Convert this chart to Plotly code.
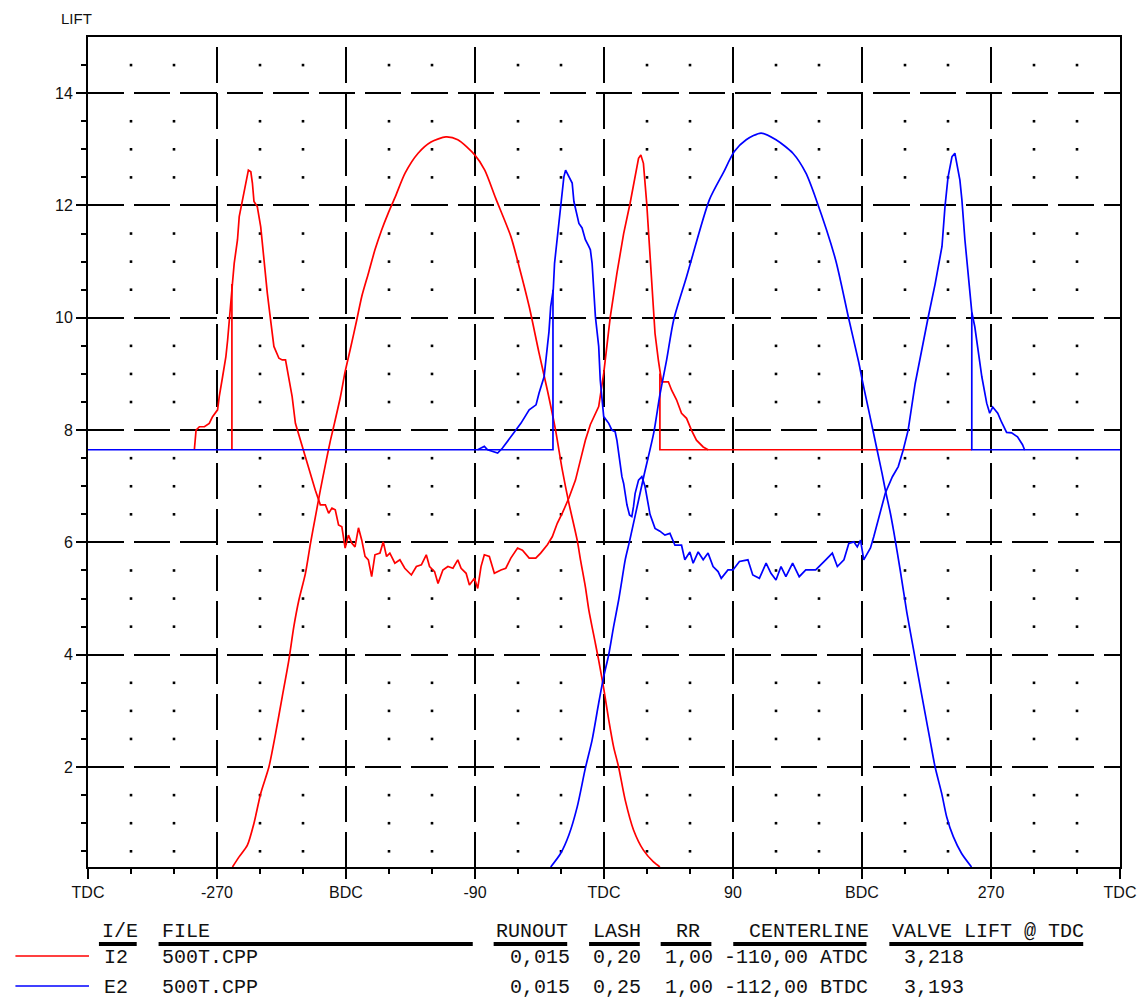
import plotly.graph_objects as go

# ---------------- data ----------------
x_tick_vals = [-360, -270, -180, -90, 0, 90, 180, 270, 360]
x_tick_text = ["TDC", "-270", "BDC", "-90", "TDC", "90", "BDC", "270", "TDC"]
x_minor_vals = list(range(-360, 361, 30))
y_tick_vals = [2, 4, 6, 8, 10, 12, 14]
y_minor_vals = [v / 2 for v in range(1, 30)]

# I2 valve lift (intake)
i2_lift_deg = [-259.2, -254.6, -248.8, -244.2, -239.5, -233.8, -229.1, -224.5, -219.9, -216.4,
               -212.9, -208.3, -204.8, -201.4, -197.9, -194.4, -191.0, -188.7, -184.0, -180.6,
               -177.1, -172.5, -169.0, -164.4, -159.8, -155.2, -150.6, -145.7, -138.7, -129.7,
               -120.7, -110.3, -102.0, -90.2, -83.2, -75.6, -65.0, -59.2, -52.2, -45.3,
               -39.5, -33.8, -29.1, -24.5, -18.7, -16.4, -13.0, -10.6, -6.0, -3.7,
               -0.2, 3.3, 6.7, 10.2, 14.8, 20.6, 27.5, 34.5, 39.0]
i2_lift_val = [0.22, 0.40, 0.61, 1.00, 1.53, 2.00, 2.60, 3.25, 3.90, 4.50,
               4.97, 5.45, 5.98, 6.45, 6.93, 7.38, 7.80, 8.05, 8.58, 9.04,
               9.43, 9.96, 10.38, 10.79, 11.21, 11.56, 11.86, 12.15, 12.58, 12.93,
               13.13, 13.22, 13.17, 12.90, 12.63, 12.13, 11.45, 10.91, 10.20, 9.37,
               8.71, 8.00, 7.29, 6.70, 6.04, 5.69, 5.21, 4.80, 4.20, 3.90,
               3.40, 2.84, 2.36, 2.00, 1.41, 0.88, 0.52, 0.31, 0.22]

# E2 valve lift (exhaust)
e2_lift_deg = [-37.2, -30.3, -24.5, -18.7, -13.0, -8.3, -3.7, -0.2, 3.3, 6.7,
               10.2, 12.5, 14.8, 18.0, 27.7, 34.7, 38.8, 43.7, 48.6, 57.6,
               73.5, 83.2, 90.9, 99.2, 109.6, 120.0, 131.8, 140.8, 147.7, 161.6,
               170.6, 177.8, 180.1, 183.6, 187.1, 190.5, 194.0, 196.3, 199.8, 202.1,
               206.7, 211.3, 215.9, 219.4, 224.0, 227.5, 231.0, 235.6, 239.1, 243.7,
               249.5, 256.4]
e2_lift_val = [0.22, 0.46, 0.79, 1.29, 1.98, 2.48, 3.14, 3.61, 4.00, 4.50,
               4.97, 5.33, 5.69, 6.04, 7.17, 7.95, 8.60, 9.25, 9.96, 10.73,
               12.10, 12.58, 12.96, 13.17, 13.29, 13.17, 12.93, 12.58, 12.13, 11.03,
               10.00, 9.20, 8.90, 8.48, 8.06, 7.65, 7.23, 6.93, 6.52, 6.20,
               5.50, 4.75, 4.10, 3.60, 2.96, 2.48, 2.00, 1.53, 1.11, 0.76,
               0.46, 0.22]

# I2 second (noisy) curve, segments separated by None
i2_dyn_deg = [-285.8, -284.6, -282.3, -278.8, -275.4, -273.1, -269.6, -268.4, -266.1, -263.8,
              -262.6, -261.4, -259.2, -258.0, -255.7, -254.5, -252.2, -249.9, -248.1, -246.4,
              -245.3, -244.2, -241.9, -239.5, -237.2, -234.9, -232.6, -230.3, -226.8, -224.5,
              -222.2, -219.9, -217.6, -215.3, -211.8, -209.5, -206.0, -204.8, -201.4, -197.9,
              -194.4, -192.1, -189.8, -187.5, -185.2, -182.9, -180.6, -178.3, -176.0, -173.7,
              -171.3, -169.0, -166.7, -164.4, -162.1, -159.8, -156.3, -154.0, -151.7, -149.4,
              -145.9, -142.4, -139.0, -134.4, -130.9, -127.4, -124.0, -121.7, -118.2, -115.8,
              -112.4, -108.9, -105.4, -102.0, -99.7, -96.2, -93.9, -90.4, -88.1, -85.8,
              -83.5, -80.0, -76.5, -71.9, -68.5, -65.0, -60.3, -56.9, -52.2, -47.6,
              -44.2, -39.5, -36.1, -32.6, -29.1, -24.5, -19.9, -16.4, -13.0, -9.5,
              -3.7, -0.2, 4.4, 9.0, 13.7, 18.2, 21.7, 24.1, 25.7, 27.5,
              29.8, 31.6, 33.3, 35.6, 37.9, 39.0, 40.2, 41.4, 44.9, 47.2,
              50.6, 54.1, 57.6, 61.0, 64.5, 69.2, 72.6, 256.6,
              None, -259.6, -259.6,
              None, 39.0, 39.0, 72.6]
i2_dyn_val = [7.65, 8.00, 8.06, 8.06, 8.12, 8.24, 8.36, 8.60, 8.95, 9.31,
              9.60, 10.02, 10.62, 10.97, 11.39, 11.80, 12.10, 12.40, 12.63, 12.60,
              12.40, 12.07, 11.98, 11.62, 10.97, 10.44, 9.96, 9.49, 9.28, 9.25,
              9.25, 8.89, 8.60, 8.12, 7.82, 7.60, 7.29, 7.23, 6.93, 6.67,
              6.67, 6.52, 6.61, 6.58, 6.31, 6.28, 5.90, 6.13, 5.99, 5.92,
              6.26, 6.04, 5.75, 5.69, 5.39, 5.78, 5.81, 6.01, 5.75, 5.81,
              5.63, 5.69, 5.54, 5.42, 5.57, 5.60, 5.78, 5.57, 5.48, 5.27,
              5.51, 5.57, 5.54, 5.69, 5.54, 5.45, 5.24, 5.36, 5.18, 5.57,
              5.78, 5.75, 5.45, 5.51, 5.54, 5.72, 5.90, 5.86, 5.72, 5.72,
              5.81, 5.96, 6.10, 6.34, 6.52, 6.79, 7.11, 7.47, 7.82, 8.10,
              8.42, 9.01, 10.02, 10.79, 11.50, 12.04, 12.51, 12.84, 12.90, 12.75,
              12.04, 11.27, 10.50, 9.72, 9.25, 9.01, 8.86, 8.86, 8.86, 8.71,
              8.54, 8.30, 8.21, 8.00, 7.82, 7.70, 7.65, 7.65,
              None, 7.65, 10.60,
              None, 9.01, 7.65, 7.65]

# E2 second (noisy) curve, segments separated by None
e2_dyn_deg = [-360, -88.1, -85.8, -83.5, -81.2, -74.2, -70.8, -65.0, -58.0, -52.2,
              -47.4, -45.3, -41.8, -39.5, -38.4, -37.2, -35.4, -34.5, -32.6, -30.3,
              -28.0, -26.8, -24.5, -22.2, -21.0, -17.5, -15.3, -13.0, -10.6, -9.5,
              -8.3, -7.1, -6.0, -3.7, -2.6, -0.2, 3.3, 5.5, 7.8, 9.0,
              10.2, 11.3, 12.5, 13.7, 16.0, 17.8, 19.4, 20.6, 21.7, 24.1,
              26.4, 28.6, 32.1, 35.6, 39.0, 42.5, 46.0, 49.5, 54.1, 56.4,
              59.9, 62.2, 65.7, 69.2, 72.6, 76.1, 79.6, 81.8, 86.5, 90.0,
              94.5, 100.4, 103.8, 108.4, 113.1, 116.5, 120.0, 123.5, 126.9, 131.6,
              136.2, 140.8, 147.7, 154.7, 159.3, 162.8, 167.4, 170.8, 174.3, 176.7,
              179.0, 181.2, 183.6, 185.9, 188.2, 190.7, 196.3, 201.2, 205.3, 208.8,
              212.2, 217.1, 222.0, 226.1, 231.0, 235.8, 237.9, 240.0, 242.8, 244.8,
              248.3, 249.7, 251.8, 253.9, 255.3, 256.6, 258.7, 260.8, 263.6, 267.0,
              269.1, 271.2, 274.7, 277.4, 280.9, 284.4, 288.5, 292.0, 293.4, 360,
              None, -88.1, -35.6, -35.6,
              None, 256.6, 256.6, 293.4]
e2_dyn_val = [7.65, 7.65, 7.68, 7.71, 7.65, 7.59, 7.68, 7.87, 8.12, 8.36,
              8.45, 8.66, 8.95, 9.49, 9.75, 10.20, 10.50, 10.97, 11.45, 12.04,
              12.51, 12.63, 12.51, 12.40, 12.07, 11.68, 11.60, 11.39, 11.27, 11.21,
              10.97, 10.55, 10.02, 9.49, 8.89, 8.24, 8.12, 8.00, 7.97, 7.82,
              7.59, 7.47, 7.17, 7.05, 6.67, 6.49, 6.46, 6.64, 6.87, 7.11,
              7.17, 7.00, 6.50, 6.25, 6.20, 6.13, 6.16, 5.95, 5.95, 5.69,
              5.83, 5.63, 5.83, 5.69, 5.81, 5.57, 5.48, 5.36, 5.51, 5.51,
              5.66, 5.69, 5.42, 5.36, 5.63, 5.45, 5.33, 5.57, 5.39, 5.63,
              5.39, 5.51, 5.51, 5.69, 5.81, 5.57, 5.69, 5.98, 6.01, 5.92,
              6.04, 5.69, 5.81, 5.90, 6.10, 6.34, 6.88, 7.17, 7.35, 7.65,
              8.00, 8.83, 9.48, 10.00, 10.60, 11.27, 11.98, 12.50, 12.87, 12.93,
              12.45, 12.10, 11.39, 10.86, 10.50, 10.10, 9.84, 9.48, 8.95, 8.48,
              8.30, 8.41, 8.30, 8.14, 7.96, 7.95, 7.88, 7.74, 7.65, 7.65,
              None, 7.65, 7.65, 10.50,
              None, 10.10, 7.65, 7.65]

# table below the chart
table_header = ["I/E", "FILE", "RUNOUT", "LASH", "RR", "CENTERLINE", "VALVE LIFT @ TDC"]
row_i2 = ["I2", "500T.CPP", "0,015", "0,20", "1,00", "-110,00 ATDC", "3,218"]
row_e2 = ["E2", "500T.CPP", "0,015", "0,25", "1,00", "-112,00 BTDC", "3,193"]
series_colors = ["#ff0000", "#0000ff"]

# ---------------- layout helpers (pixel -> paper) ----------------
W, H = 1148, 999
L, R, T, B = 88, 22, 37, 132
PW, PH = W - L - R, H - T - B


def px(xp):
    return (xp - L) / PW


def py(yp):
    return (H - B - yp) / PH


fig = go.Figure()

# minor grid dots
dot_x, dot_y = [], []
for mx in x_minor_vals:
    if mx % 90 == 0:
        continue
    for my in y_minor_vals:
        if my % 2 == 0:
            continue
        dot_x.append(mx)
        dot_y.append(my)
fig.add_trace(go.Scatter(x=dot_x, y=dot_y, mode="markers",
                         marker=dict(symbol="square", size=2.6, color="#000000"),
                         hoverinfo="skip", showlegend=False))

lw = 1.7
fig.add_trace(go.Scatter(x=i2_lift_deg, y=i2_lift_val, mode="lines",
                         line=dict(color=series_colors[0], width=lw, shape="spline", smoothing=0.7),
                         name="I2"))
fig.add_trace(go.Scatter(x=i2_dyn_deg, y=i2_dyn_val, mode="lines",
                         line=dict(color=series_colors[0], width=lw), showlegend=False))
fig.add_trace(go.Scatter(x=e2_lift_deg, y=e2_lift_val, mode="lines",
                         line=dict(color=series_colors[1], width=lw, shape="spline", smoothing=0.7),
                         name="E2"))
fig.add_trace(go.Scatter(x=e2_dyn_deg, y=e2_dyn_val, mode="lines",
                         line=dict(color=series_colors[1], width=lw), showlegend=False))

tickfont = dict(family="Liberation Sans, Arial, sans-serif", size=16, color="#111111")

fig.update_layout(
    width=W, height=H, autosize=False,
    margin=dict(l=L, r=R, t=T, b=B, pad=0),
    paper_bgcolor="white", plot_bgcolor="white",
    showlegend=False,
    xaxis=dict(range=[-360, 360], tickmode="array", tickvals=x_tick_vals, ticktext=x_tick_text,
               ticks="outside", ticklen=10, tickwidth=2, tickcolor="black",
               showline=True, linewidth=2, linecolor="black", mirror=True,
               showgrid=True, gridcolor="black", gridwidth=2, griddash="0px,10px,36.2px,0px",
               zeroline=False, tickfont=tickfont,
               minor=dict(tickvals=x_minor_vals, ticks="outside", ticklen=5, tickwidth=2,
                          tickcolor="black", showgrid=False)),
    yaxis=dict(range=[0.22, 15], tickmode="array", tickvals=y_tick_vals,
               ticks="outside", ticklen=10, tickwidth=2, tickcolor="black",
               showline=True, linewidth=2, linecolor="black", mirror=True,
               showgrid=True, gridcolor="black", gridwidth=2, griddash="36.2px,10px",
               zeroline=False, tickfont=tickfont,
               minor=dict(tickvals=y_minor_vals, ticks="outside", ticklen=5, tickwidth=2,
                          tickcolor="black", showgrid=False)),
)

annotations = []
shapes = []
annotations.append(dict(text="LIFT", x=px(59), y=py(18), xref="paper", yref="paper",
                        xanchor="left", yanchor="middle", showarrow=False,
                        font=dict(family="Liberation Sans, Arial, sans-serif", size=15, color="#111111")))

mono = dict(family="Liberation Mono, Courier New, monospace", size=20, color="#111111")
header_x = [101, 161, 497, 595, 678, 752, 896]
under_x = [(99, 137), (159, 475), (496, 570), (592, 643), (664, 715), (737, 871), (894, 1089)]
row_x = [103, 161, 511, 595, 667, 727, 908]
header_y, under_y, row_y = 931, 944, [957, 987]

for txt, xx in zip(table_header, header_x):
    annotations.append(dict(text=txt, x=px(xx), y=py(header_y), xref="paper", yref="paper",
                            xanchor="left", yanchor="middle", showarrow=False, font=mono,
                            borderpad=0))
for x0, x1 in under_x:
    shapes.append(dict(type="line", xref="paper", yref="paper", x0=px(x0), x1=px(x1),
                       y0=py(under_y), y1=py(under_y), line=dict(color="black", width=4)))
for row, ry, col in zip([row_i2, row_e2], row_y, series_colors):
    for txt, xx in zip(row, row_x):
        annotations.append(dict(text=txt, x=px(xx), y=py(ry), xref="paper", yref="paper",
                                xanchor="left", yanchor="middle", showarrow=False, font=mono,
                                borderpad=0))
    shapes.append(dict(type="line", xref="paper", yref="paper", x0=px(15), x1=px(89),
                       y0=py(ry - 1), y1=py(ry - 1), line=dict(color=col, width=lw)))

fig.update_layout(annotations=annotations, shapes=shapes)
fig.write_html("out.html", config={"displayModeBar": False},
               post_script="document.body.style.margin='0px';document.body.style.overflow='hidden';")
